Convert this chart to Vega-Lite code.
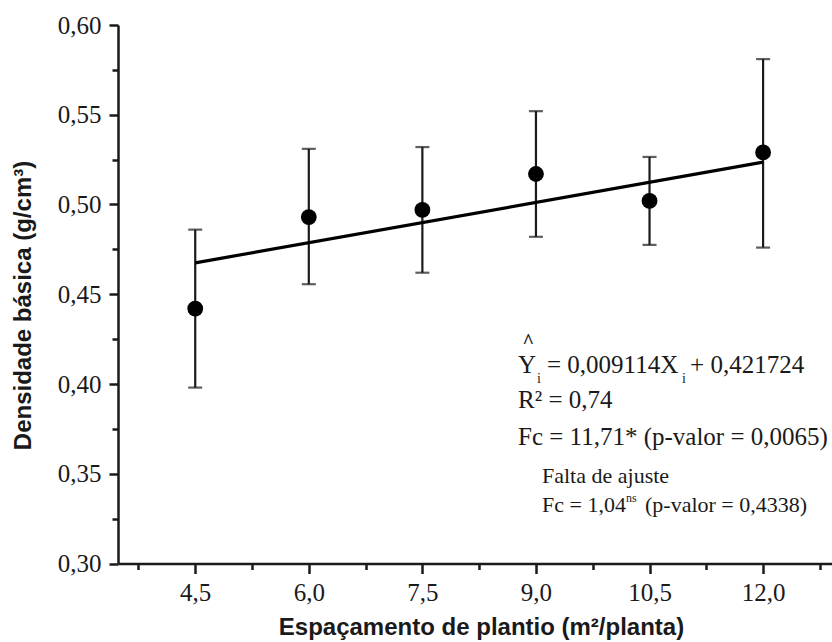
{
  "$schema": "https://vega.github.io/schema/vega-lite/v6.json",
  "autosize": "none",
  "width": 714,
  "height": 538.5,
  "padding": {"left": 118, "top": 25, "right": 0, "bottom": 78.5},
  "background": "white",
  "config": {
    "view": {"stroke": null},
    "axis": {
      "domainColor": "#1a1a1a",
      "domainWidth": 2.5,
      "tickColor": "#1a1a1a",
      "tickWidth": 2.5,
      "grid": false,
      "labelFont": "Liberation Serif",
      "labelFontSize": 25,
      "labelColor": "#1a1a1a",
      "titleFont": "Liberation Sans",
      "titleFontWeight": "bold",
      "titleFontSize": 24,
      "titleColor": "#1a1a1a"
    }
  },
  "datasets": {
    "pts": [
      {"esp": 4.5, "dens": 0.442, "lo": 0.398, "hi": 0.486},
      {"esp": 6.0, "dens": 0.493, "lo": 0.4556, "hi": 0.531},
      {"esp": 7.5, "dens": 0.497, "lo": 0.462, "hi": 0.532},
      {"esp": 9.0, "dens": 0.517, "lo": 0.482, "hi": 0.552},
      {"esp": 10.5, "dens": 0.502, "lo": 0.4775, "hi": 0.5265},
      {"esp": 12.0, "dens": 0.529, "lo": 0.476, "hi": 0.581}
    ],
    "fit": [
      {"esp": 4.5, "dens": 0.4675},
      {"esp": 12.0, "dens": 0.5236}
    ],
    "one": [{"k": 1}]
  },
  "layer": [
    {
      "data": {"name": "pts"},
      "mark": {"type": "rule", "color": "#1a1a1a", "strokeWidth": 2.2},
      "encoding": {
        "x": {
          "field": "esp", "type": "quantitative",
          "scale": {"domain": [3.48, 12.91], "nice": false, "zero": false},
          "axis": {
            "title": "Espaçamento de plantio (m²/planta)",
            "values": [3.75, 4.5, 5.25, 6.0, 6.75, 7.5, 8.25, 9.0, 9.75, 10.5, 11.25, 12.0, 12.75],
            "labelExpr": "abs(datum.value/1.5 - round(datum.value/1.5)) > 0.01 ? '' : replace(format(datum.value, '.1f'), '.', ',')",
            "tickSize": {"condition": {"test": "abs(datum.value/1.5 - round(datum.value/1.5)) > 0.01", "value": 6}, "value": 10},
            "labelPadding": 7,
            "titlePadding": 10,
            "titleX": 363,
            "labelFlush": false,
            "labelOverlap": false
          }
        },
        "y": {
          "field": "lo", "type": "quantitative",
          "scale": {"domain": [0.3, 0.6], "nice": false, "zero": false},
          "axis": {
            "title": "Densidade básica (g/cm³)",
            "values": [0.3, 0.325, 0.35, 0.375, 0.4, 0.425, 0.45, 0.475, 0.5, 0.525, 0.55, 0.575, 0.6],
            "labelExpr": "abs(datum.value*20 - round(datum.value*20)) > 0.01 ? '' : replace(format(datum.value, '.2f'), '.', ',')",
            "tickSize": {"condition": {"test": "abs(datum.value*20 - round(datum.value*20)) > 0.01", "value": 6}, "value": 9},
            "labelPadding": 8,
            "titlePadding": 22,
            "titleY": 280,
            "labelFlush": false,
            "labelOverlap": false
          }
        },
        "y2": {"field": "hi"}
      }
    },
    {
      "data": {"name": "pts"},
      "mark": {"type": "tick", "orient": "horizontal", "color": "#1a1a1a", "thickness": 2.2, "size": 14},
      "encoding": {
        "x": {"field": "esp", "type": "quantitative"},
        "y": {"field": "lo", "type": "quantitative"}
      }
    },
    {
      "data": {"name": "pts"},
      "mark": {"type": "tick", "orient": "horizontal", "color": "#1a1a1a", "thickness": 2.2, "size": 14},
      "encoding": {
        "x": {"field": "esp", "type": "quantitative"},
        "y": {"field": "hi", "type": "quantitative"}
      }
    },
    {
      "data": {"name": "fit"},
      "mark": {"type": "line", "color": "black", "strokeWidth": 3.2},
      "encoding": {
        "x": {"field": "esp", "type": "quantitative"},
        "y": {"field": "dens", "type": "quantitative"}
      }
    },
    {
      "data": {"name": "pts"},
      "mark": {"type": "point", "filled": true, "shape": "circle", "color": "black", "opacity": 1, "size": 250},
      "encoding": {
        "x": {"field": "esp", "type": "quantitative"},
        "y": {"field": "dens", "type": "quantitative"}
      }
    },
    {
      "data": {"name": "one"},
      "mark": {"type": "text", "text": "^", "font": "Liberation Serif", "fontSize": 20, "fontWeight": "bold", "align": "center", "baseline": "alphabetic", "color": "#1a1a1a"},
      "encoding": {"x": {"datum": 8.9, "type": "quantitative"}, "y": {"datum": 0.4198, "type": "quantitative"}}
    },
    {
      "data": {"name": "one"},
      "mark": {"type": "text", "text": "Y", "font": "Liberation Serif", "fontSize": 25, "align": "left", "baseline": "alphabetic", "color": "#1a1a1a"},
      "encoding": {"x": {"datum": 8.763, "type": "quantitative"}, "y": {"datum": 0.4061, "type": "quantitative"}}
    },
    {
      "data": {"name": "one"},
      "mark": {"type": "text", "text": "i", "font": "Liberation Serif", "fontSize": 14, "align": "left", "baseline": "alphabetic", "color": "#1a1a1a"},
      "encoding": {"x": {"datum": 9.014, "type": "quantitative"}, "y": {"datum": 0.4006, "type": "quantitative"}}
    },
    {
      "data": {"name": "one"},
      "mark": {"type": "text", "text": "= 0,009114X", "font": "Liberation Serif", "fontSize": 25, "align": "left", "baseline": "alphabetic", "color": "#1a1a1a"},
      "encoding": {"x": {"datum": 9.146, "type": "quantitative"}, "y": {"datum": 0.4061, "type": "quantitative"}}
    },
    {
      "data": {"name": "one"},
      "mark": {"type": "text", "text": "i", "font": "Liberation Serif", "fontSize": 14, "align": "left", "baseline": "alphabetic", "color": "#1a1a1a"},
      "encoding": {"x": {"datum": 10.929, "type": "quantitative"}, "y": {"datum": 0.4006, "type": "quantitative"}}
    },
    {
      "data": {"name": "one"},
      "mark": {"type": "text", "text": "+ 0,421724", "font": "Liberation Serif", "fontSize": 25, "align": "left", "baseline": "alphabetic", "color": "#1a1a1a"},
      "encoding": {"x": {"datum": 11.035, "type": "quantitative"}, "y": {"datum": 0.4061, "type": "quantitative"}}
    },
    {
      "data": {"name": "one"},
      "mark": {"type": "text", "text": "R² = 0,74", "font": "Liberation Serif", "fontSize": 25, "align": "left", "baseline": "alphabetic", "color": "#1a1a1a"},
      "encoding": {"x": {"datum": 8.763, "type": "quantitative"}, "y": {"datum": 0.3866, "type": "quantitative"}}
    },
    {
      "data": {"name": "one"},
      "mark": {"type": "text", "text": "Fc = 11,71* (p-valor = 0,0065)", "font": "Liberation Serif", "fontSize": 25, "align": "left", "baseline": "alphabetic", "color": "#1a1a1a"},
      "encoding": {"x": {"datum": 8.763, "type": "quantitative"}, "y": {"datum": 0.366, "type": "quantitative"}}
    },
    {
      "data": {"name": "one"},
      "mark": {"type": "text", "text": "Falta de ajuste", "font": "Liberation Serif", "fontSize": 22, "align": "left", "baseline": "alphabetic", "color": "#1a1a1a"},
      "encoding": {"x": {"datum": 9.08, "type": "quantitative"}, "y": {"datum": 0.3448, "type": "quantitative"}}
    },
    {
      "data": {"name": "one"},
      "mark": {"type": "text", "text": "Fc = 1,04", "font": "Liberation Serif", "fontSize": 22, "align": "left", "baseline": "alphabetic", "color": "#1a1a1a"},
      "encoding": {"x": {"datum": 9.08, "type": "quantitative"}, "y": {"datum": 0.3287, "type": "quantitative"}}
    },
    {
      "data": {"name": "one"},
      "mark": {"type": "text", "text": "ns", "font": "Liberation Serif", "fontSize": 12, "align": "left", "baseline": "alphabetic", "color": "#1a1a1a"},
      "encoding": {"x": {"datum": 10.19, "type": "quantitative"}, "y": {"datum": 0.3345, "type": "quantitative"}}
    },
    {
      "data": {"name": "one"},
      "mark": {"type": "text", "text": "(p-valor = 0,4338)", "font": "Liberation Serif", "fontSize": 22, "align": "left", "baseline": "alphabetic", "color": "#1a1a1a"},
      "encoding": {"x": {"datum": 10.44, "type": "quantitative"}, "y": {"datum": 0.3287, "type": "quantitative"}}
    }
  ]
}
